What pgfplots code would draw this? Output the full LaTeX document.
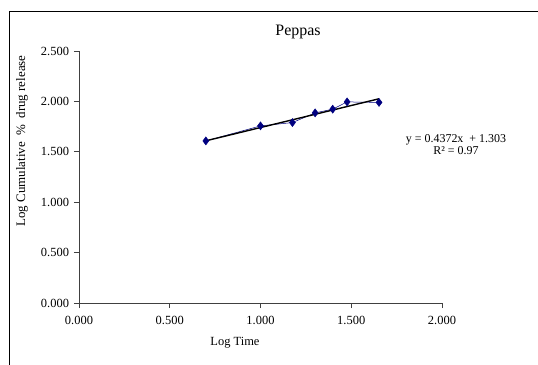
\documentclass[border=0pt]{standalone}
\usepackage{pgfplots}
\pgfplotsset{compat=1.18}
\usepackage{fontspec}
\setmainfont{Liberation Serif}
\definecolor{navyd}{HTML}{000080}
\begin{document}
\begin{tikzpicture}
\path[use as bounding box] (0,0) rectangle (538bp,365bp);
\draw[line width=0.8bp] (9bp,0) -- (9bp,354bp) -- (538bp,354bp);
\begin{axis}[
  at={(79bp,62bp)}, anchor=south west,
  scale only axis, width=363bp, height=252bp,
  xmin=0, xmax=2, ymin=0, ymax=2.5,
  axis lines=left, axis line style={-, black!75, line width=0.7bp},
  xtick={0,0.5,1,1.5,2}, ytick={0,0.5,1,1.5,2,2.5},
  tick align=outside, major tick length=5bp,
  tick style={black!75, line width=0.7bp},
  /pgf/number format/assume math mode=true,
  /pgf/number format/.cd, fixed, fixed zerofill, precision=3, /pgfplots/.cd,
  ticklabel style={font=\fontsize{12.5}{14}\selectfont},
  xticklabel style={yshift=-5bp},
  yticklabel style={xshift=-1.5bp},
  clip=false,
]
\addplot[navyd, line width=0.5bp, mark=diamond*, mark size=4bp, mark options={navyd, fill=navyd}]
 coordinates {(0.699,1.608)(1.000,1.757)(1.176,1.790)(1.301,1.886)(1.398,1.923)(1.477,1.995)(1.653,1.990)};
\addplot[black, line width=1.4bp] coordinates {(0.699,1.609)(1.653,2.026)};
\end{axis}
\node[font=\fontsize{16}{18}\selectfont] at (298bp,333bp) {Peppas};
\node[font=\fontsize{12.5}{15}\selectfont] at (235bp,22bp) {Log Time};
\node[font=\fontsize{13}{15}\selectfont, rotate=90] at (22bp,224bp) {Log Cumulative \ \% \ drug release};
\node[font=\fontsize{12}{15}\selectfont] at (456bp,225bp) {y = 0.4372x \ + 1.303};
\node[font=\fontsize{12}{15}\selectfont] at (456bp,214bp) {R² = 0.97};
\end{tikzpicture}
\end{document}
